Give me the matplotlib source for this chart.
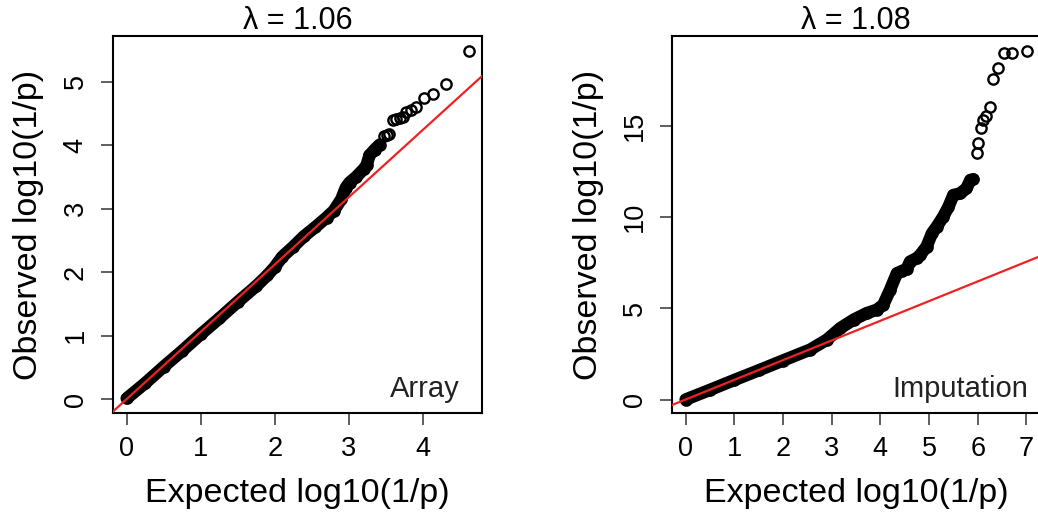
import matplotlib
matplotlib.use("Agg")
import matplotlib.pyplot as plt

plt.rcParams['font.family'] = ['Liberation Sans', 'DejaVu Sans']

# ---- Data: Array panel ----
array_lambda = 1.06
array_band_exp = [0.0, 0.25, 0.5, 0.75, 1.0, 1.25, 1.5, 1.75, 1.9, 2.0, 2.1, 2.25,
                  2.4, 2.55, 2.7, 2.8, 2.9, 2.96, 3.01, 3.10, 3.20, 3.24, 3.28, 3.35, 3.42]
array_band_obs = [0.01, 0.25, 0.51, 0.76, 1.02, 1.27, 1.53, 1.78, 1.95, 2.08, 2.24, 2.40,
                  2.57, 2.71, 2.86, 2.97, 3.15, 3.33, 3.41, 3.50, 3.62, 3.68, 3.84, 3.93, 4.01]
array_tail_exp = [3.47, 3.51, 3.55, 3.60, 3.64, 3.69, 3.73,
                  3.77, 3.84, 3.91, 4.02, 4.14, 4.31, 4.62]
array_tail_obs = [4.14, 4.16, 4.18, 4.40, 4.41, 4.43, 4.44,
                  4.53, 4.56, 4.60, 4.74, 4.81, 4.96, 5.49]

# ---- Data: Imputation panel ----
imput_lambda = 1.08
imput_band_exp = [0.0, 0.5, 1.0, 1.5, 2.0, 2.56, 2.9, 3.18, 3.45, 3.72, 3.93, 4.06, 4.20,
                  4.34, 4.44, 4.54, 4.61, 4.75, 4.82, 4.95, 5.06, 5.16, 5.29, 5.40, 5.50,
                  5.64, 5.77, 5.85, 5.91]
imput_band_obs = [0.0, 0.53, 1.07, 1.60, 2.14, 2.74, 3.28, 3.92, 4.38, 4.74, 4.93, 5.20,
                  6.02, 6.93, 7.05, 7.15, 7.57, 7.76, 7.94, 8.39, 9.12, 9.49, 10.03, 10.58,
                  11.22, 11.31, 11.59, 12.05, 12.08]
imput_tail_exp = [5.98, 6.01, 6.06, 6.11, 6.17, 6.25, 6.32, 6.42, 6.54, 6.71, 7.01]
imput_tail_obs = [13.54, 14.09, 14.91, 15.36, 15.55, 16.06, 17.61, 18.21, 19.01, 19.01, 19.10]

x_ticks_array = [0, 1, 2, 3, 4]
y_ticks_array = [0, 1, 2, 3, 4, 5]
x_ticks_imput = [0, 1, 2, 3, 4, 5, 6, 7]
y_ticks_imput = [0, 5, 10, 15]

W, H = 1038, 515
fig = plt.figure(figsize=(W / 100, H / 100), dpi=100)

ax1 = fig.add_axes([113 / W, 1 - 413 / H, 369 / W, 377 / H])
ax2 = fig.add_axes([672 / W, 1 - 413 / H, 368 / W, 377 / H])

def draw(ax, bx, by, tx, ty, lam, title, label, xlim, ylim, xt, yt, label_x, ylab_x):
    ax.plot(bx, by, color='black', lw=9.0, solid_capstyle='round',
            solid_joinstyle='round', zorder=2)
    ax.plot(bx, by, 'o', mfc='none', mec='black', ms=7.4, mew=1.7, zorder=2)
    ax.plot(tx, ty, 'o', mfc='none', mec='black', ms=7.4, mew=1.7, zorder=2)
    ax.axline((0, 0), slope=lam, color='#EE2222', lw=1.6, zorder=3)
    ax.set_xlim(*xlim)
    ax.set_ylim(*ylim)
    ax.set_xticks(xt)
    ax.set_yticks(yt)
    ax.tick_params(direction='out', length=8.5, width=1.1, labelsize=19.5, color='#333333')
    ax.tick_params(axis='x', pad=8)
    ax.tick_params(axis='y', pad=9, labelrotation=90)
    for lbl in ax.get_yticklabels():
        lbl.set_va('center')
    for sp in ax.spines.values():
        sp.set_linewidth(1.5)
    ax.set_title(title, fontsize=22, pad=0.5)
    ax.set_xlabel('Expected log10(1/p)', fontsize=24.5)
    ax.set_ylabel('Observed log10(1/p)', fontsize=24.5)
    ax.xaxis.set_label_coords(0.5, -0.172)
    ax.yaxis.set_label_coords(ylab_x, 0.5)
    ax.yaxis.label.set_va('top')
    ax.text(label_x, 0.042, label, transform=ax.transAxes, ha='right',
            va='baseline', fontsize=21, color='#222222')

draw(ax1, array_band_exp, array_band_obs, array_tail_exp, array_tail_obs,
     array_lambda, 'λ = 1.06', 'Array', (-0.185, 4.80), (-0.22, 5.72),
     x_ticks_array, y_ticks_array, 0.940, -0.272)
draw(ax2, imput_band_exp, imput_band_obs, imput_tail_exp, imput_tail_obs,
     imput_lambda, 'λ = 1.08', 'Imputation', (-0.28, 7.28), (-0.74, 19.95),
     x_ticks_imput, y_ticks_imput, (1028 - 672) / 368, -0.270)

fig.savefig('out.png', dpi=100)
